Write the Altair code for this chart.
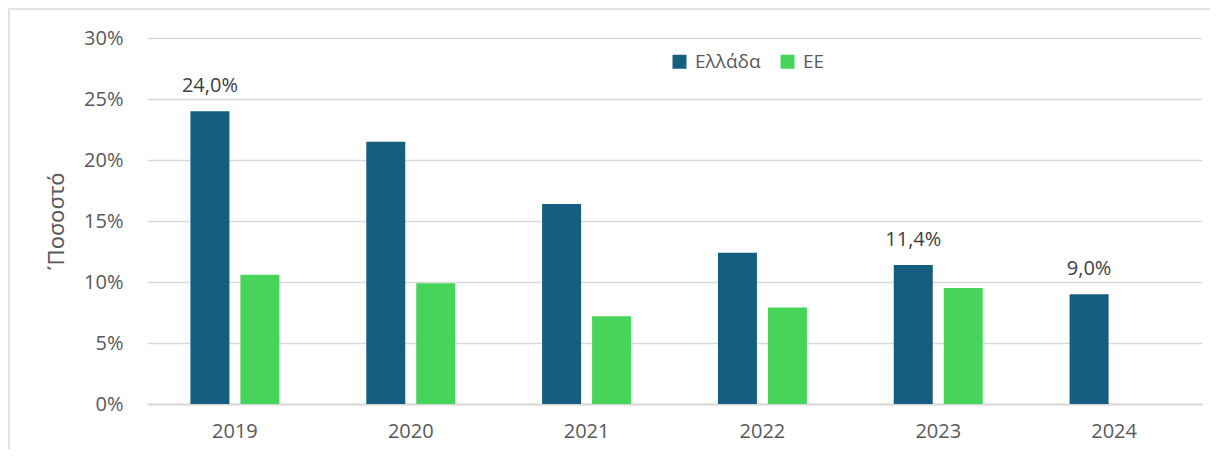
import altair as alt
import pandas as pd

years = ["2019", "2020", "2021", "2022", "2023", "2024"]
greece = [24.0, 21.5, 16.4, 12.4, 11.4, 9.0]
eu = [10.6, 9.9, 7.2, 7.9, 9.5, None]
labelled_years = ["2019", "2023", "2024"]
series_names = ["Ελλάδα", "ΕΕ"]
colors = ["#165E80", "#47D45B"]
y_ticks = [0, 5, 10, 15, 20, 25, 30]

rows = []
for y, g, e in zip(years, greece, eu):
    rows.append({"year": y, "series": "Ελλάδα", "value": g})
    if e is not None:
        rows.append({"year": y, "series": "ΕΕ", "value": e})
df = pd.DataFrame(rows)

lab = pd.DataFrame(
    [
        {"year": y, "series": "Ελλάδα", "value": g,
         "label": f"{g:.1f}".replace(".", ",") + "%"}
        for y, g in zip(years, greece) if y in labelled_years
    ]
)

FONT = "Open Sans"

x_enc = alt.X(
    "year:N", sort=years, title=None,
    scale=alt.Scale(paddingInner=0.494, paddingOuter=0.247),
    axis=alt.Axis(labelAngle=0, labelFontSize=20, labelColor="#595959",
                  labelFont=FONT, labelPadding=17, ticks=False,
                  domainColor="#D9D9D9", domainWidth=2),
)
xoff = alt.XOffset("series:N", sort=series_names,
                   scale=alt.Scale(domain=series_names, paddingInner=0.22, paddingOuter=0))
y_enc = alt.Y(
    "value:Q", title="\u0384Ποσοστό",
    scale=alt.Scale(domain=[0, 30], nice=False),
    axis=alt.Axis(values=y_ticks, labelExpr="datum.value + '%'",
                  labelFontSize=20, labelColor="#595959", labelFont=FONT,
                  labelPadding=24, ticks=False, domain=False,
                  gridColor="#D9D9D9", gridWidth=1.5,
                  titleFontSize=22, titleFont="Noto Sans", titleColor="#595959",
                  titleFontWeight="normal", titlePadding=15, titleY=183),
)

bars = alt.Chart(df).mark_bar(size=39).encode(
    x=x_enc,
    xOffset=xoff,
    y=y_enc,
    color=alt.Color(
        "series:N", sort=series_names,
        scale=alt.Scale(domain=series_names, range=colors),
        legend=alt.Legend(
            title=None, orient="none", legendX=523, legendY=14,
            direction="horizontal", symbolType="square", symbolSize=196,
            symbolStrokeWidth=0, labelFontSize=19, labelFont=FONT,
            labelColor="#595959", labelOffset=6, columnPadding=17, padding=0,
        ),
    ),
)

labels = alt.Chart(lab).mark_text(
    fontSize=20, font=FONT, color="#404040", baseline="middle", dy=-25
).encode(
    x=alt.X("year:N", sort=years),
    xOffset=alt.XOffset("series:N", sort=series_names),
    y="value:Q",
    text="label:N",
)

frame = alt.Chart(pd.DataFrame({"k": [0]})).mark_rect(
    fill=None, stroke="#D9D9D9", strokeWidth=1.5
).encode(
    x=alt.value(-138), x2=alt.value(1200),
    y=alt.value(-29), y2=alt.value(500),
)

chart = alt.layer(frame, bars, labels).properties(
    width=1055, height=366,
    autosize=alt.AutoSizeParams(type="none"),
    padding={"left": 139, "top": 30, "right": 8, "bottom": 45},
).configure(background="white").configure_view(stroke=None)

chart.save("out.html", embed_options={"renderer": "svg", "actions": False})
